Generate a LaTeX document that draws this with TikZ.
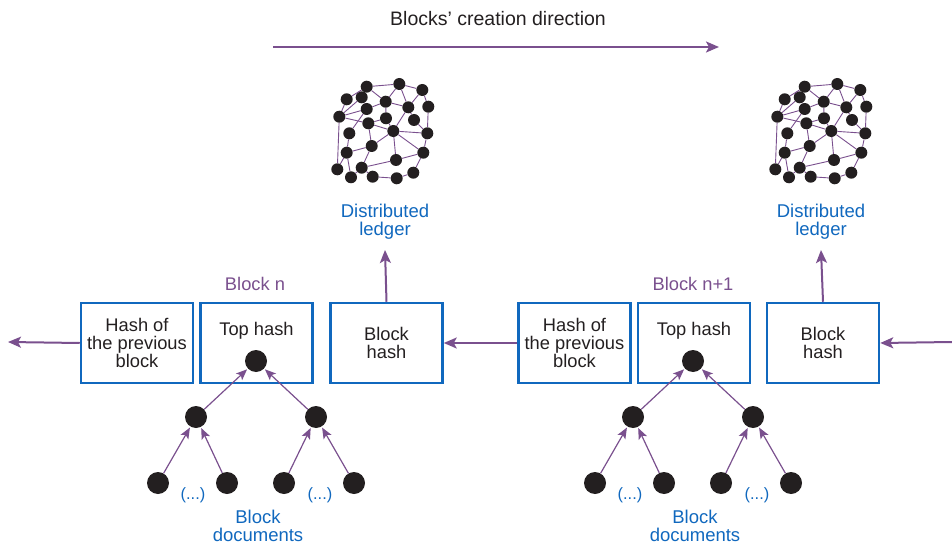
\documentclass[tikz,border=0pt]{standalone}
\usepackage{fontspec}
\setmainfont{Liberation Sans}
\usetikzlibrary{arrows.meta}
\definecolor{pur}{RGB}{122,80,142}
\definecolor{blu}{RGB}{16,104,190}
\definecolor{dotc}{RGB}{35,31,32}
\definecolor{txt}{RGB}{35,31,32}
\newcommand\ledgergraph[3]{%
\begin{scope}[shift={(#2,#3)}]
\foreach \n/\x/\y in {1/366.7/86.7,2/399.3/84,3/422.3/90,4/346.7/99.3,5/361.7/97.3,6/385.7/101.7,7/428.3/106.7,8/366.7/109,9/408.3/107.3,10/339.3/116.7,11/386/118.3,12/414/120,13/368.3/123.3,14/393.3/131,15/427.3/133.3,16/349.3/133.3,17/371.7/146,18/346.7/152.7,19/423.3/152.7,20/396/160,21/337.3/169.3,22/361.7/167.7,23/413.3/172.7,24/351/177.3,25/372.7/176.7,26/396.7/178.3}
  {\node[gdot] (#1-\n) at (\x,\y) {};}
\foreach \a/\b in {1/2,2/3,1/6,2/6,2/9,3/9,3/7,6/9,6/8,6/11,9/12,9/14,7/15,10/13,13/14,14/15,10/21,8/16,16/18,13/17,14/17,14/20,14/19,15/19,17/18,17/22,18/21,18/24,22/20,20/19,19/23,22/24,22/25,25/26,26/23,11/14,12/15,5/8,4/10,10/5,10/8,1/4,11/13}
  {\draw[gedge] (#1-\a) -- (#1-\b);}
\end{scope}}
\begin{document}
\begin{tikzpicture}[x=1pt,y=-1pt,
  box/.style={draw=blu, line width=2.5pt, minimum width=112pt, minimum height=80pt, inner sep=0pt, align=center, font=\fontsize{18.3}{18}\selectfont, text=txt},
  boxtext/.style={font=\fontsize{18.3}{18}\selectfont, text=txt, inner sep=0pt},
  bigdot/.style={circle, fill=dotc, minimum size=22pt, inner sep=0pt},
  gdot/.style={circle, fill=dotc, minimum size=12pt, inner sep=0pt},
  flow/.style={draw=pur, line width=2pt, -{Stealth[length=13pt,width=11pt,inset=3pt]}},
  tarrow/.style={draw=pur, line width=1.2pt, shorten >=1pt, -{Stealth[length=11pt,width=9pt,inset=2.5pt]}},
  gedge/.style={draw=pur, line width=0.9pt},
  bluelbl/.style={font=\fontsize{18.5}{18}\selectfont, text=blu, align=center, inner sep=0pt},
  purlbl/.style={font=\fontsize{18.3}{18}\selectfont, text=pur, inner sep=0pt},
  toplbl/.style={font=\fontsize{19.5}{20}\selectfont, text=txt, inner sep=0pt}
]
\useasboundingbox (0,0) rectangle (952,545);
% top direction arrow
\node[toplbl] (dirlbl) at (498,19) {Blocks’ creation direction};
\coordinate (dirA) at (273,47);
\coordinate (dirB) at (719,47);
\draw[flow] (dirA) -- (dirB);

% ledgers
\ledgergraph{ga}{0}{0}
\ledgergraph{gb}{438}{0}
\node[bluelbl] (led1) at (385,222) {Distributed\\ledger};
\node[bluelbl] (led2) at (821,222) {Distributed\\ledger};

% block n
\node[box] (prev1) at (137,343) {Hash of\\the previous\\block};
\node[box] (top1) at (256.5,343) {};
\node[boxtext] (toptxt1) at (256.5,331) {Top hash};
\node[box] (bh1) at (386.5,343) {Block\\hash};
\node[purlbl] (bn1) at (255,284) {Block n};

% block n+1
\node[box] (prev2) at (574.5,343) {Hash of\\the previous\\block};
\node[box] (top2) at (694,343) {};
\node[boxtext] (toptxt2) at (694,331) {Top hash};
\node[box] (bh2) at (823,343) {Block\\hash};
\node[purlbl] (bn2) at (693,284) {Block n+1};

% chain arrows
\coordinate (leftend) at (8,342);
\coordinate (rightend) at (952,342);
\draw[flow] (prev1.west) -- (leftend);
\draw[flow] (prev2.west) -- (bh1.east);
\draw[flow] (rightend) -- (bh2.east);
\draw[flow] (bh1.north) -- (led1.south |- 0,250);
\draw[flow] (bh2.north) -- (led2.south |- 0,250);

% trees
\foreach \s/\p in {0/a,437/b}{
  \begin{scope}[shift={(\s,0)}]
  \node[bigdot] (root\p) at (256,361) {};
  \node[bigdot] (m1\p) at (196,417) {};
  \node[bigdot] (m2\p) at (316,417) {};
  \node[bigdot] (l1\p) at (158,483) {};
  \node[bigdot] (l2\p) at (227,483) {};
  \node[bigdot] (l3\p) at (284,483) {};
  \node[bigdot] (l4\p) at (354,483) {};
  \node[bluelbl,font=\fontsize{16.4}{17}\selectfont] (e1\p) at (193,495) {(...)};
  \node[bluelbl,font=\fontsize{16.4}{17}\selectfont] (e2\p) at (320,495) {(...)};
  \node[bluelbl] (docs\p) at (258,526) {Block\\documents};
  \draw[tarrow] (m1\p) -- (root\p);
  \draw[tarrow] (m2\p) -- (root\p);
  \draw[tarrow] (l1\p) -- (m1\p);
  \draw[tarrow] (l2\p) -- (m1\p);
  \draw[tarrow] (l3\p) -- (m2\p);
  \draw[tarrow] (l4\p) -- (m2\p);
  \end{scope}}
\end{tikzpicture}
\end{document}
